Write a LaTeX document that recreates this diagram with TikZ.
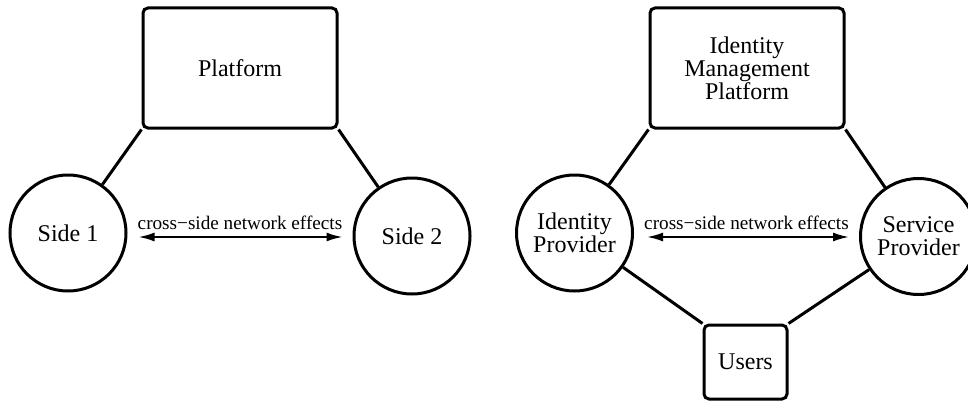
\documentclass[tikz,border=0pt]{standalone}
\usepackage{fontspec}
\setmainfont{Liberation Serif}
\usetikzlibrary{arrows.meta}
\begin{document}
\begin{tikzpicture}[x=0.5pt,y=-0.5pt,
  mainfont/.style={font=\fontsize{12}{11.4}\selectfont},
  box/.style={draw, line width=1.5pt, rounded corners=2.5pt, minimum width=97pt, minimum height=60pt, align=center, inner sep=0pt, mainfont},
  smallbox/.style={box, minimum width=41.5pt, minimum height=37pt},
  circ/.style={circle, draw, line width=1.5pt, minimum size=58pt, inner sep=0pt, align=center, mainfont},
  conn/.style={line width=1.5pt},
  arr/.style={line width=1pt, {Latex[length=8pt,width=4.5pt]}-{Latex[length=8pt,width=4.5pt]}},
  lbl/.style={font=\fontsize{9.6}{11}\selectfont, inner sep=3pt}]
\clip (0,0) rectangle (968,401);
% left diagram
\node[box] (plat) at (240,68) {Platform};
\node[circ] (s1) at (68,233) {Side 1};
\node[circ] (s2) at (412,236) {Side 2};
\draw[conn] (plat.south west) -- (s1);
\draw[conn] (plat.south east) -- (s2);
\draw[arr, shorten <=5.5pt, shorten >=5pt] (s1.east |- 0,237) -- node[lbl, above] (lab1) {cross−side network effects} (s2.west |- 0,237);
% right diagram
\node[box] (imp) at (747,68) {Identity\\Management\\Platform};
\node[circ] (idp) at (574.5,233) {Identity\\Provider};
\node[circ] (sp) at (918.5,236.5) {Service\\Provider};
\node[smallbox] (users) at (745.5,362) {Users};
\draw[conn] (imp.south west) -- (idp);
\draw[conn] (imp.south east) -- (sp);
\draw[conn] (users.north west) -- (idp);
\draw[conn] (users.north east) -- (sp);
\draw[arr, shorten <=6.5pt, shorten >=5pt] (idp.east |- 0,237) -- node[lbl, above] (lab2) {cross−side network effects} (sp.west |- 0,237);
\end{tikzpicture}
\end{document}
